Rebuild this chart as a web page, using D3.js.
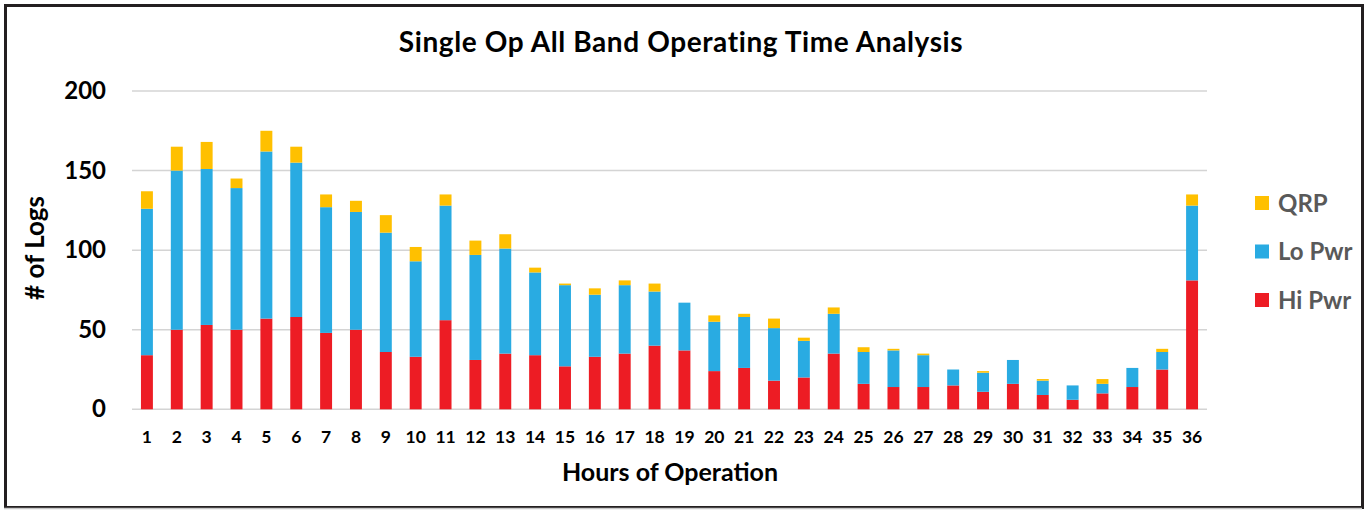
<!DOCTYPE html>
<html>
<head>
<meta charset="utf-8">
<script src="https://cdn.jsdelivr.net/npm/d3@7"></script>
<style>
  html, body { margin: 0; padding: 0; background: #fff; }
  svg { display: block; }
  text { font-family: Lato, "Open Sans", sans-serif; font-weight: bold; }
</style>
</head>
<body>
<svg id="chart" width="1364" height="510"></svg>
<script>
const hours = ["1","2","3","4","5","6","7","8","9","10","11","12","13","14","15","16","17","18","19","20","21","22","23","24","25","26","27","28","29","30","31","32","33","34","35","36"];
const hiPwr = [34,50,53,50,57,58,48,50,36,33,56,31,35,34,27,33,35,40,37,24,26,18,20,35,16,14,14,15,11,16,9,6,10,14,25,81];
const loPwr = [92,100,98,89,105,97,79,74,75,60,72,66,66,52,51,39,43,34,30,31,32,33,23,25,20,23,20,10,12,15,9,9,6,12,11,47];
const qrp   = [11,15,17,6,13,10,8,7,11,9,7,9,9,3,1,4,3,5,0,4,2,6,2,4,3,1,1,0,1,0,1,0,3,0,2,7];
const yTicks = [0,50,100,150,200];
const seriesNames = ["Hi Pwr","Lo Pwr","QRP"];
const colors = {"Hi Pwr":"#ED1C24","Lo Pwr":"#29ABE2","QRP":"#FFC000"};

const rows = hours.map((h,i)=>({hour:h,"Hi Pwr":hiPwr[i],"Lo Pwr":loPwr[i],"QRP":qrp[i]}));
const stacked = d3.stack().keys(seriesNames)(rows);

const svg = d3.select("#chart");
const plotL = 132, plotR = 1207, plotT = 91, plotB = 409.3;

// frame
svg.append("rect").attr("x",5.5).attr("y",5.5).attr("width",1357).attr("height",502)
  .attr("fill","none").attr("stroke","#231f20").attr("stroke-width",3);
svg.append("line").attr("x1",4).attr("x2",1362).attr("y1",508.5).attr("y2",508.5)
  .attr("stroke","#c8c8c8").attr("stroke-width",1.5);

const x = d3.scaleBand().domain(hours).range([plotL,plotR]).paddingInner(0.6).paddingOuter(0.3);
const y = d3.scaleLinear().domain([0,200]).range([plotB,plotT]);

// gridlines
svg.append("g").selectAll("line").data(yTicks).join("line")
  .attr("x1",plotL).attr("x2",plotR)
  .attr("y1",d=>y(d)).attr("y2",d=>y(d))
  .attr("stroke","#d4d4d4").attr("stroke-width",1.5);

// y axis labels
const yAxis = d3.axisLeft(y).tickValues(yTicks).tickSize(0).tickPadding(0);
const yg = svg.append("g").attr("transform",`translate(106,0)`).call(yAxis);
yg.select(".domain").remove();
yg.selectAll("text").attr("font-size",24).attr("fill","#000")
  .style("font-family","Lato, sans-serif").style("font-weight","bold");

// bars
svg.append("g").selectAll("g").data(stacked).join("g")
  .attr("fill",d=>colors[d.key])
  .selectAll("rect").data(d=>d).join("rect")
  .attr("x",d=>x(d.data.hour))
  .attr("width",x.bandwidth())
  .attr("y",d=>y(d[1]))
  .attr("height",d=>y(d[0])-y(d[1]));

// x axis labels
const xAxis = d3.axisBottom(x).tickSize(0).tickPadding(0);
const xg = svg.append("g").attr("transform",`translate(0,430)`).call(xAxis);
xg.select(".domain").remove();
xg.selectAll("text").attr("font-size",17.5).attr("fill","#000").attr("dy","0.72em")
  .style("font-family","Lato, sans-serif").style("font-weight","bold");

// titles
svg.append("text").attr("x",681).attr("y",52).attr("text-anchor","middle")
  .attr("font-size",28).attr("letter-spacing","0.6px").attr("fill","#000")
  .text("Single Op All Band Operating Time Analysis");
svg.append("text").attr("x",670).attr("y",481).attr("text-anchor","middle")
  .attr("font-size",25).attr("fill","#000").text("Hours of Operation");
svg.append("text").attr("transform","translate(44,248) rotate(-90)").attr("text-anchor","middle")
  .attr("font-size",26).attr("fill","#000").text("# of Logs");

// legend
const legendItems = ["QRP","Lo Pwr","Hi Pwr"];
const lg = svg.append("g").selectAll("g").data(legendItems).join("g")
  .attr("transform",(d,i)=>`translate(1255,${203 + i*48.5})`);
lg.append("rect").attr("x",0).attr("y",-7).attr("width",14).attr("height",14).attr("fill",d=>colors[d]);
lg.append("text").attr("x",23).attr("y",0).attr("dy","0.36em").attr("font-size",24)
  .attr("fill","#595959").text(d=>d);
</script>
</body>
</html>
